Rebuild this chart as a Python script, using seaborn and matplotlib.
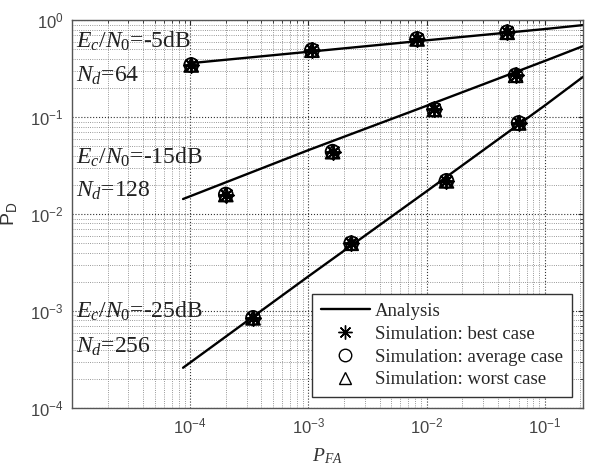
import matplotlib
matplotlib.use("Agg")
import pandas as pd
import matplotlib.pyplot as plt
import seaborn as sns
from matplotlib.lines import Line2D

# courbes analytiques (P_FA, P_D)
pfa_ana_5 = [1e-4, 1e-3, 1e-2, 1e-1, 0.21]
pd_ana_5 = [0.36, 0.472, 0.62, 0.81, 0.89]
pfa_ana_15 = [8.7e-5, 1e-3, 1e-2, 1e-1, 0.21]
pd_ana_15 = [0.0143, 0.0457, 0.131, 0.38, 0.54]
pfa_ana_25 = [8.7e-5, 1e-3, 1e-2, 1e-1, 0.21]
pd_ana_25 = [2.6e-4, 2.28e-3, 0.0172, 0.132, 0.26]

# points de simulation
pfa_sim_5 = [1.02e-4, 1.07e-3, 8.3e-3, 0.048]
pd_sim_5 = [0.345, 0.49, 0.64, 0.75]
pfa_sim_15 = [2.0e-4, 1.6e-3, 0.0116, 0.0566]
pd_sim_15 = [0.0159, 0.044, 0.12, 0.27]
pfa_sim_25 = [3.4e-4, 2.3e-3, 0.0147, 0.06]
pd_sim_25 = [8.5e-4, 5.0e-3, 0.022, 0.087]

cas = ["Simulation: best case", "Simulation: average case", "Simulation: worst case"]
labels_snr = [("$E_c/N_0$=-5dB", "$N_d$=64"),
              ("$E_c/N_0$=-15dB", "$N_d$=128"),
              ("$E_c/N_0$=-25dB", "$N_d$=256")]
xticks = [1e-4, 1e-3, 1e-2, 1e-1]
xticklabels = [r"$\mathsf{10^{-4}}$", r"$\mathsf{10^{-3}}$", r"$\mathsf{10^{-2}}$", r"$\mathsf{10^{-1}}$"]
yticks = [1e-4, 1e-3, 1e-2, 1e-1, 1]
yticklabels = [r"$\mathsf{10^{-4}}$", r"$\mathsf{10^{-3}}$", r"$\mathsf{10^{-2}}$",
               r"$\mathsf{10^{-1}}$", r"$\mathsf{10^{0}}$"]

ana = pd.concat([
    pd.DataFrame({"pfa": pfa_ana_5, "pd": pd_ana_5, "snr": "-5"}),
    pd.DataFrame({"pfa": pfa_ana_15, "pd": pd_ana_15, "snr": "-15"}),
    pd.DataFrame({"pfa": pfa_ana_25, "pd": pd_ana_25, "snr": "-25"}),
])
sim = pd.concat([
    pd.DataFrame({"pfa": pfa_sim_5, "pd": pd_sim_5}),
    pd.DataFrame({"pfa": pfa_sim_15, "pd": pd_sim_15}),
    pd.DataFrame({"pfa": pfa_sim_25, "pd": pd_sim_25}),
])

sns.set_style("white")
plt.rcParams["font.family"] = ["Liberation Sans", "DejaVu Sans"]
plt.rcParams["mathtext.fontset"] = "custom"
plt.rcParams["mathtext.rm"] = "Liberation Serif"
plt.rcParams["mathtext.it"] = "Liberation Serif:italic"
plt.rcParams["mathtext.sf"] = "Liberation Sans"

fig = plt.figure(figsize=(5.93, 4.65), dpi=100)
ax = fig.add_axes([0.1214, 0.1226, 0.8617, 0.834])

sns.lineplot(data=ana, x="pfa", y="pd", units="snr", estimator=None,
             color="black", linewidth=1.7, ax=ax, legend=False)

marqueurs = [(8, 2, 0), "o", "^"]
for m in marqueurs:
    if m == "o" or m == "^":
        sns.scatterplot(data=sim, x="pfa", y="pd", marker=m, s=100,
                        facecolor="none", edgecolor="black", linewidth=1.3, ax=ax)
    else:
        sns.scatterplot(data=sim, x="pfa", y="pd", marker=m, s=110,
                        color="black", linewidth=1.4, ax=ax)

ax.set_xscale("log")
ax.set_yscale("log")
ax.set_xlim(1e-5, 0.21)
ax.set_ylim(1e-4, 1)
ax.set_xticks(xticks)
ax.set_xticklabels(xticklabels)
ax.set_yticks(yticks)
ax.set_yticklabels(yticklabels)

ax.grid(True, which="major", linestyle=":", color="#333333", linewidth=0.8)
ax.grid(True, which="minor", linestyle=":", color="#777777", linewidth=0.6)
ax.tick_params(which="both", direction="in", top=True, right=True,
               labelsize=12, labelcolor="#444444", pad=6)
for sp in ax.spines.values():
    sp.set_color("#555555")
    sp.set_linewidth(1.0)

ax.set_xlabel("$P_{FA}$", fontsize=14, labelpad=7, color="#333333")
ax.set_ylabel(r"$\mathsf{P_D}$", fontsize=14, labelpad=8, color="#333333")

serif = ["Liberation Serif", "DejaVu Serif"]
pos_y = [(0.928, 0.841), (0.631, 0.544), (0.232, 0.142)]
for (l1, l2), (y1, y2) in zip(labels_snr, pos_y):
    ax.text(0.008, y1, l1, transform=ax.transAxes, fontsize=17,
            family=serif, color="#222222")
    ax.text(0.008, y2, l2, transform=ax.transAxes, fontsize=17,
            family=serif, color="#222222")

handles = [Line2D([], [], color="black", linewidth=1.7, label="Analysis"),
           Line2D([], [], color="black", marker=(8, 2, 0), linestyle="none",
                  markersize=10, label=cas[0]),
           Line2D([], [], color="black", marker="o", markerfacecolor="none",
                  linestyle="none", markersize=9, label=cas[1]),
           Line2D([], [], color="black", marker="^", markerfacecolor="none",
                  linestyle="none", markersize=9, label=cas[2])]
leg = ax.legend(handles=handles, loc="lower right", prop={"family": serif, "size": 13.5},
                fancybox=False, framealpha=1, edgecolor="#333333",
                borderaxespad=0.6, handlelength=2.6, handletextpad=0.3,
                labelspacing=0.3, borderpad=0.45)
leg.get_frame().set_linewidth(1.0)

fig.savefig("out.png", dpi=100)
